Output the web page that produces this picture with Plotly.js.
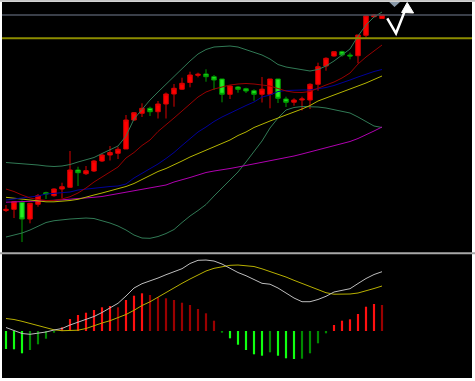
<!DOCTYPE html>
<html><head><meta charset="utf-8">
<script src="https://cdn.plot.ly/plotly-3.0.1.min.js"></script>
<style>html,body{margin:0;padding:0;background:#fff;overflow:hidden}#chart{width:475px;height:381px}</style>
</head><body><div id="chart"></div>
<script>
const periods = [0,1,2,3,4,5,6,7,8,9,10,11,12,13,14,15,16,17,18,19,20,21,22,23,24,25,26,27,28,29,30,31,32,33,34,35,36,37,38,39,40,41,42,43,44,45,46,47];
const open  = [39.5,40.7,47.7,31,45.7,57.3,54.3,61,62.7,80,76.3,79,89,95,96.7,101,130,136.7,141.7,138.3,146,156,160.8,167.5,174.7,176,173.3,171,155.7,163,161.3,159.3,155.7,155.7,171,151,147.8,150,150,165.7,184,194,198.3,195,194.3,214.7,233.3,231.5];
const high  = [45,49,49.5,47,56,58.3,61.7,67.3,99,83.3,84,90,96,104,103.3,135,138,146.7,143.3,149,157.5,166,172.3,178.3,177.3,180.7,175,171,165,164,162.3,160.7,173,171,171,153.3,151.7,153.3,166.7,187.3,192.7,198.3,199.3,197.3,215,235,236,235];
const low   = [38,32,8,26.7,43.3,51,53.3,51.7,62,64,75,78,88,89.5,91,101,129,133,134,131.5,131.5,143.3,160,162.7,172.7,168.3,160,147.7,151,157.3,157,149.3,147.5,141.7,147,143,144.3,139.5,141,159.3,179.3,193.3,193.3,190.7,186.7,212.3,232.7,231.5];
const close = [40.7,48.3,31,46.7,54.3,56,61,63.3,80,77.3,79.3,89,95,97.5,100.7,130,137.3,141.7,138.3,146,156,161.7,166.7,175,175.7,173.3,170,155.7,164,160.7,159,155.7,160.8,171,151.7,147.7,150,151,165.7,183.3,191.7,198.3,195,194,215,234.3,235,235];

const bbUpper = [87.5,87,86.5,85.7,85,84,83.5,84,85.5,88,90,92.5,96.5,100,104,114,131,140.5,150,158,166,174,182,189,196,200.5,203,203.7,204,203,200.5,198,195,191,185.5,183,181.5,180,179,180.5,184,189,195,201,214,225,233,238];
const bbLower = [13,15,17,20,24,27.5,29.3,30.3,31,31.5,32,31.5,29.5,27,24,20,15,12,11.7,13.5,16.5,20.5,27.5,34,39.5,45.5,54,62,70.5,78,88,99,109,122,132,140,142.5,143.5,143.5,143,142,140.5,138.5,137,133,128.5,124,122.5];
const maMid   = [50,51,52,53,54,56,56.5,57,58,60,61,62,63,63.5,64,66,72,76.5,81,86,91.5,97.5,104.5,111.5,118,123,128.5,133,137,140.5,144.5,148,153,155,158.5,159.5,160,160,160,161,162.5,164.5,167,170,173,176,178.5,180.5];
const maShort = [61,58.5,55,52,50.5,49.5,49.5,51,53.3,57,62,68,73,78.3,83,92,97.5,104.5,110,118.5,125,132,139,146,153,158,161,163,165,166,166.5,166,165,164,161.5,159,157.7,157.5,158.5,162,165,168,172,177,186,193,199,205];
const maLong  = [52.7,51.7,50.8,49.7,48.5,48.2,48.2,48.5,49.5,50.7,52.5,55,57,59,61,63.5,66.5,70.5,74.5,78.5,81.5,85,89,93,96.5,100,103,106.5,110,114.5,118,122.5,126,129,132,135,137.5,141,144.5,149,152,155,158,160.7,163.5,167,170.5,174];
const maSlow  = [47.8,48,48.3,48.7,49,49.3,49.7,50.2,50.7,51,51.7,52.7,53.5,55,56.3,57.7,59,60.7,62,63.5,65,68,70,72.5,75,77.5,79,80,81.5,83,84.5,86,88,89.5,91,92.5,94,96,98,100,102,104,106.5,108.5,111.5,115,119,123];

const macdHist = [-18,-18.3,-22.3,-19,-13.3,-7.7,-1.7,3.7,12,16,18.3,21,23.7,25,23.7,31,35.3,37.7,36,33.7,32.7,31,28.3,26,22,17.7,10.3,-1.7,-7.3,-13.7,-19,-23.3,-24.7,-21.3,-24.7,-27.3,-28,-27.7,-22.3,-12.3,-2.3,6,10.3,11.7,17,24.3,27,26];
const macdDif  = [3.5,0.5,-2.5,-3.3,-2.5,-1,1,2.5,6,8.7,11.5,14.5,18.5,22.7,27.7,35,43,47.3,50,53,56.3,59.3,62.3,67.5,70.7,71,70,67,62.5,58.5,55.3,51.5,47.7,46.8,43,38,33,29.3,29.3,31.5,34.7,39,40.7,42.3,47.5,52.5,56.5,59.3];
const macdDea  = [12.5,11.5,9.7,7.7,5.3,3,1.2,0.3,0.5,0.8,2.5,5.5,8,10.3,13.5,16.5,20.7,25.5,29.2,34,38.5,43,47.7,52,56.3,60,62.7,64.5,65.7,66,65.5,64.5,62.2,59.7,57,54,50.7,47.5,44,40.7,38.3,36.8,36.7,37,38,40,42.5,45];

const resistanceLevel = 235;
const supportLevel = 211.7;

// histogram colours: bright when growing away from zero, dark when shrinking
const histColors = macdHist.map((v, i) => {
  const p = i > 0 ? macdHist[i-1] : null;
  if (v >= 0) {
    const bright = p === null || p < 0 || v > p;
    return bright ? '#ff1010' : '#9a0000';
  } else {
    const bright = p === null || (p < 0 && v < p);
    return bright ? '#10ff10' : '#008a00';
  }
});

function line(y, color, axis) {
  return {type:'scatter', mode:'lines', x:periods, y:y, xaxis:'x', yaxis:axis||'y',
          line:{color:color, width:1}, hoverinfo:'skip', showlegend:false};
}

const traces = [
  {type:'candlestick', x:periods, open:open, high:high, low:low, close:close,
   xaxis:'x', yaxis:'y', showlegend:false, hoverinfo:'skip', whiskerwidth:0,
   increasing:{line:{color:'#d80000', width:1}, fillcolor:'#ff0000'},
   decreasing:{line:{color:'#009a00', width:1}, fillcolor:'#22ee22'}},
  line(bbUpper, '#317a55'),
  line(bbLower, '#317a55'),
  line(maSlow, '#b000b0'),
  line(maLong, '#b5b500'),
  line(maMid, '#00009a'),
  line(maShort, '#990000'),
  {type:'bar', x:periods, y:macdHist, xaxis:'x', yaxis:'y2', width:0.27,
   marker:{color:histColors, line:{width:0}}, hoverinfo:'skip', showlegend:false},
  line(macdDea, '#b8b000', 'y2'),
  line(macdDif, '#bdbdbd', 'y2')
];

const lowFrac = 0.3324;
const layout = {
  width:475, height:381,
  margin:{l:2, r:3, t:2, b:3, pad:0},
  paper_bgcolor:'#ffffff', plot_bgcolor:'#000000',
  showlegend:false, boxgap:0.2,
  xaxis:{range:[-0.5,58.25], showgrid:false, zeroline:false, showticklabels:false, ticks:'', showline:false, rangeslider:{visible:false}, fixedrange:true},
  yaxis:{domain:[lowFrac,1], range:[-3,248], showgrid:false, zeroline:false, showticklabels:false, ticks:'', showline:false, fixedrange:true},
  yaxis2:{domain:[0,lowFrac], range:[-47,78], showgrid:false, zeroline:false, showticklabels:false, ticks:'', showline:false, fixedrange:true},
  shapes:[
    {type:'line', xref:'paper', x0:0, x1:1, yref:'y', y0:resistanceLevel, y1:resistanceLevel, line:{color:'#4e5462', width:1.5}},
    {type:'line', xref:'paper', x0:0, x1:1, yref:'y', y0:supportLevel, y1:supportLevel, line:{color:'#8c8c00', width:2}},
    {type:'line', xref:'paper', x0:-0.01, x1:1.01, yref:'paper', y0:0.3316, y1:0.3316, line:{color:'#a8a8a8', width:2}},
    {type:'line', xref:'paper', x0:-0.01, x1:1.01, yref:'paper', y0:1.003, y1:1.003, line:{color:'#c4c4c4', width:2}},
    {type:'path', xref:'x', yref:'y', path:'M 47.9,248 L 49.25,248 L 48.56,243 Z', fillcolor:'#8898a8', line:{width:0}},
    {type:'path', xref:'x', yref:'y', path:'M 47.66,231.7 L 48.75,216.7 L 50.0,242', line:{color:'#ffffff', width:2.5}},
    {type:'path', xref:'x', yref:'y', path:'M 49.45,237.5 L 50.15,247.5 L 50.95,237 Z', fillcolor:'#ffffff', line:{color:'#ffffff', width:1}}
  ]
};

Plotly.newPlot('chart', traces, layout, {staticPlot:true, displayModeBar:false});
</script>
</body></html>
